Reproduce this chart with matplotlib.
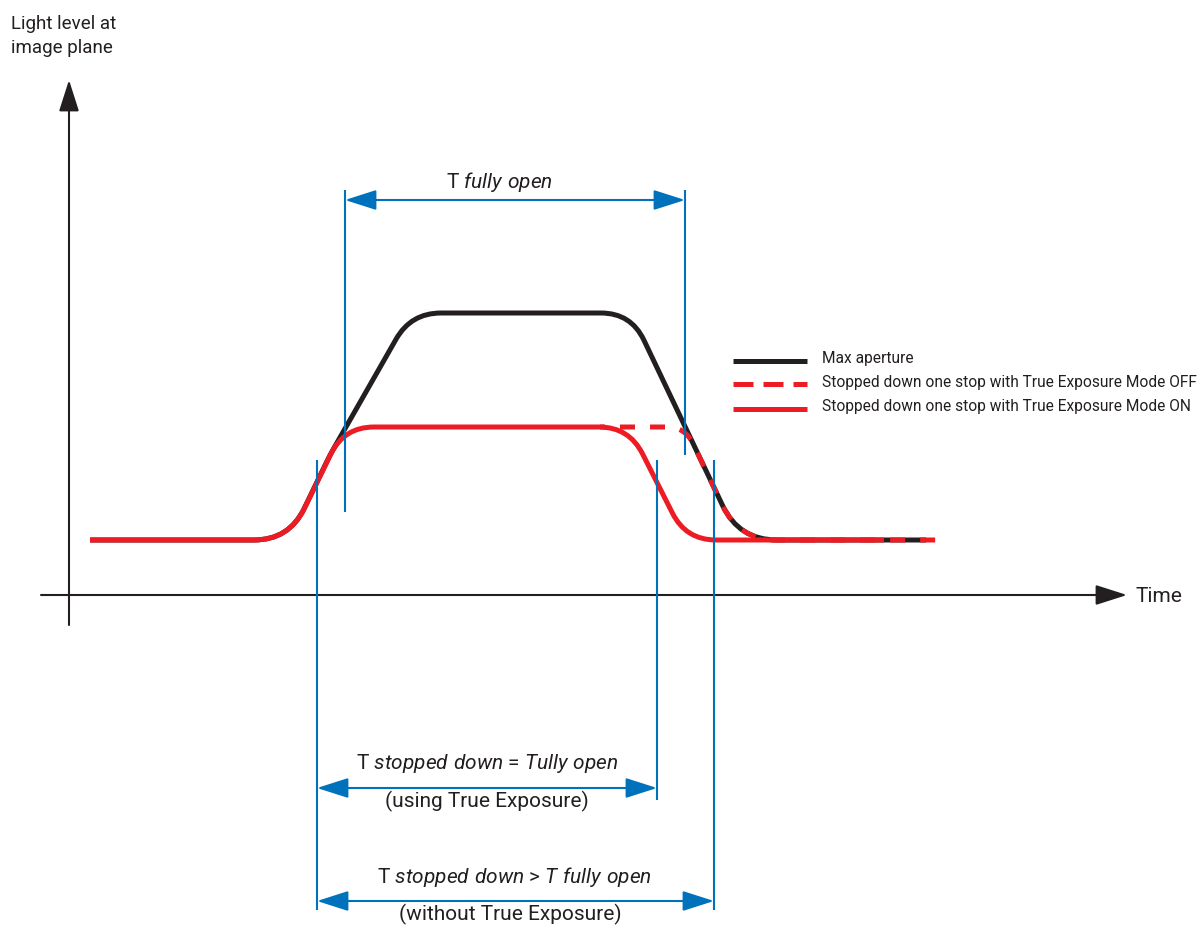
import numpy as np
import matplotlib
matplotlib.use("Agg")
import matplotlib.pyplot as plt
from matplotlib.path import Path
from matplotlib.patches import PathPatch, FancyArrowPatch
from matplotlib.lines import Line2D

# ---------------- data (time units / light-level units) ----------------
# corner points of each exposure curve (time, light level)
max_ap_time = [21, 220, 261, 342, 562, 670, 857]
max_ap_light = [55, 55, 140, 282, 282, 55, 55]

on_time = [21, 220, 275, 560, 617, 815]
on_light = [55, 55, 168, 168, 55, 55]

off_time = [531, 616, 670, 871]
off_light = [168, 168, 55, 55]

# timing markers (time positions)
t_open_start, t_open_end = 276, 616
t_stop_on_start, t_stop_on_end = 248, 588
t_stop_off_end = 645

legend_labels = ["Max aperture",
                 "Stopped down one stop with True Exposure Mode OFF",
                 "Stopped down one stop with True Exposure Mode ON"]

# ---------------- style ----------------
BLACK = "#231F20"
RED = "#ED1C24"
BLUE = "#0072BC"
TXT = "#231F20"
plt.rcParams['font.family'] = ['Roboto', 'DejaVu Sans']
plt.rcParams['mathtext.fontset'] = 'custom'
plt.rcParams['mathtext.rm'] = 'Roboto'
plt.rcParams['mathtext.it'] = 'Roboto:italic'

fig = plt.figure(figsize=(12, 9.25), dpi=100)
ax = fig.add_axes([0, 0, 1, 1])
ax.set_xlim(-69, 1131)
ax.set_ylim(-330, 595)
ax.axis('off')

CURVE_LW = 3.6


def rounded_path(ts, ls, radii):
    pts = np.column_stack([ts, ls]).astype(float)
    verts = [tuple(pts[0])]
    codes = [Path.MOVETO]
    for i in range(1, len(pts) - 1):
        P = pts[i]
        a_dir = (pts[i - 1] - P) / np.linalg.norm(pts[i - 1] - P)
        b_dir = (pts[i + 1] - P) / np.linalg.norm(pts[i + 1] - P)
        r = radii[i - 1]
        verts += [tuple(P + a_dir * r), tuple(P), tuple(P + b_dir * r)]
        codes += [Path.LINETO, Path.CURVE3, Path.CURVE3]
    verts.append(tuple(pts[-1]))
    codes.append(Path.LINETO)
    return Path(verts, codes)


# axes with arrows
ax.add_patch(FancyArrowPatch((0, -30), (0, 515), arrowstyle="-|>,head_length=19.4,head_width=6.2",
                             mutation_scale=1, shrinkA=0, shrinkB=0, color=BLACK, lw=1.5, zorder=1))
ax.add_patch(FancyArrowPatch((-28, 0), (1058, 0), arrowstyle="-|>,head_length=19.4,head_width=6.2",
                             mutation_scale=1, shrinkA=0, shrinkB=0, color=BLACK, lw=1.5, zorder=1))

# curves
ax.add_patch(PathPatch(rounded_path(max_ap_time, max_ap_light, [35, 8, 30, 30, 38]),
                       fill=False, edgecolor=BLACK, lw=CURVE_LW, capstyle='butt', joinstyle='round', zorder=2))
ax.add_patch(PathPatch(rounded_path(on_time, on_light, [35, 30, 30, 30]),
                       fill=False, edgecolor=RED, lw=CURVE_LW, capstyle='butt', joinstyle='round', zorder=3))
ax.add_patch(PathPatch(rounded_path(off_time, off_light, [18, 38]),
                       fill=False, edgecolor=RED, lw=CURVE_LW, linestyle=(2, (3, 3)),
                       capstyle='butt', joinstyle='round', zorder=4))

# blue timing markers
def vline(t, l0, l1):
    ax.plot([t, t], [l0, l1], color=BLUE, lw=1.5, solid_capstyle='butt', zorder=5)


def dbl_arrow(t0, t1, l):
    ax.add_patch(FancyArrowPatch((t0, l), (t1, l), arrowstyle="<|-|>,head_length=19.4,head_width=6.2",
                                 mutation_scale=1, shrinkA=0, shrinkB=0, color=BLUE, lw=1.5, zorder=5))


vline(t_open_start, 83, 405)
vline(t_open_end, 140, 405)
dbl_arrow(t_open_start, t_open_end, 395)

vline(t_stop_on_start, -315, 135)
vline(t_stop_on_end, -205, 135)
vline(t_stop_off_end, -315, 135)
dbl_arrow(t_stop_on_start, t_stop_on_end, -193)
dbl_arrow(t_stop_on_start, t_stop_off_end, -306)

# texts
FS_LBL = 13.5
FS_T = 15
ax.text(-58, 566, "Light level at", fontsize=FS_LBL, color=TXT, ha='left', va='baseline')
ax.text(-58, 542, "image plane", fontsize=FS_LBL, color=TXT, ha='left', va='baseline')
ax.text(1067, -7, "Time", fontsize=FS_T, color=TXT, ha='left', va='baseline')

ax.text(430, 407, r"T $\mathit{fully\ open}$", fontsize=FS_T, color=TXT, ha='center', va='baseline')
ax.text(418, -174, r"T $\mathit{stopped\ down}$ = $\mathit{Tully\ open}$", fontsize=FS_T, color=TXT,
        ha='center', va='baseline')
ax.text(418, -212, "(using True Exposure)", fontsize=FS_T, color=TXT, ha='center', va='baseline')
ax.text(445, -288, r"T $\mathit{stopped\ down}$ > $\mathit{T\ fully\ open}$", fontsize=FS_T, color=TXT,
        ha='center', va='baseline')
ax.text(441, -325, "(without True Exposure)", fontsize=FS_T, color=TXT, ha='center', va='baseline')

# legend (figure pixel coordinates)
W, H = 1200, 925
leg_y = [361, 384, 409]
leg_txt_y = [363, 387, 411]
leg_styles = [dict(color=BLACK, ls='-'), dict(color=RED, ls=(0, (4, 2))), dict(color=RED, ls='-')]
for yy, ty, lab, st in zip(leg_y, leg_txt_y, legend_labels, leg_styles):
    fig.add_artist(Line2D([733 / W, 807 / W], [1 - yy / H, 1 - yy / H], color=st['color'],
                          linestyle=st['ls'], lw=CURVE_LW, solid_capstyle='butt', dash_capstyle='butt'))
    fig.text(822 / W, 1 - ty / H, lab, fontsize=11.2, color=TXT, ha='left', va='baseline')

fig.savefig("out.png", dpi=100)
